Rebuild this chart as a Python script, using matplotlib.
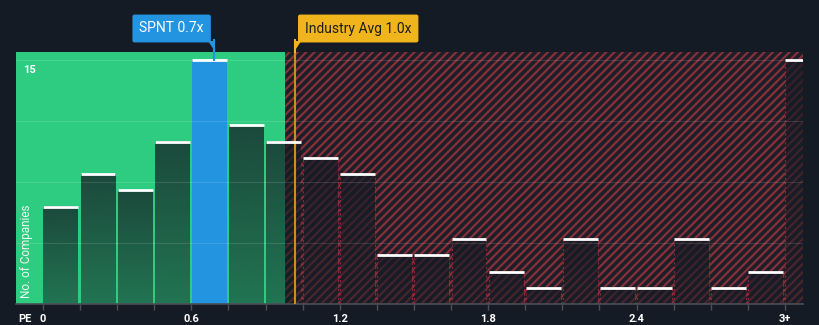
import numpy as np
import matplotlib
matplotlib.use("Agg")
import matplotlib.pyplot as plt
from matplotlib.colors import to_rgb
from matplotlib.patches import Polygon
from matplotlib.transforms import blended_transform_factory

plt.rcParams['font.family'] = ['Roboto', 'DejaVu Sans']
plt.rcParams['hatch.linewidth'] = 1.6

# PE histogram, bins of 0.15 from 0 to 3, plus the 3+ bucket
bin_edges = np.round(np.arange(0, 3.0001, 0.15), 2)
counts = [6, 8, 7, 10, 15, 11, 10, 9, 8, 3, 3, 4, 2, 1, 4, 1, 1, 4, 1, 2]
over_3 = 15
tick_vals = [0, 0.6, 1.2, 1.8, 2.4, 3.0]
tick_labels = ['0', '0.6', '1.2', '1.8', '2.4', '3+']
spnt_pe = 0.69
industry_pe = 1.02
green_limit = 0.98
ylabel_ticks = [15]

bg = '#151b24'
green = '#2ecc80'
blue = '#2394e0'
gold = '#f0b51c'
hatch_red = '#86303a'

W, H = 820, 325
fig = plt.figure(figsize=(W / 100, H / 100), dpi=100, facecolor=bg)
ax = fig.add_axes([16 / W, 21 / H, 787 / W, 252 / H])
ax.set_facecolor(bg)
xmin, xmax = -0.109, 3.073
ymax = 15.52
bw = 0.15

ax.axvspan(xmin, green_limit, color=green, lw=0, zorder=0)
ax.axvspan(green_limit, xmax, facecolor='#1d1e28', edgecolor=hatch_red,
           hatch='////', lw=0, zorder=0)

# dark vertical gradient laid over each bar
grad = np.zeros((64, 1, 4))
grad[..., :3] = to_rgb(bg)
grad[:, 0, 3] = np.linspace(0.5, 0.74, 64)


def draw_bar(left, h, highlight=False):
    x0, x1 = left + 0.002, left + bw - 0.007
    if highlight:
        ax.bar(left + 0.002, h, width=bw - 0.009, align='edge', color=blue, lw=0, zorder=2)
    else:
        ax.imshow(grad, extent=(x0, x1, 0, h), origin='lower', aspect='auto',
                  interpolation='bilinear', zorder=2)
        if left >= green_limit:
            ax.vlines([x0, x1], 0, h, color='#8a2a35', lw=0.8, linestyles=(0, (2, 2)), zorder=2.5)
    ax.hlines(h, x0, x1, color='white', lw=2, zorder=4)


for left, c in zip(bin_edges[:-1], counts):
    draw_bar(left, c, highlight=(left <= spnt_pe < left + bw))
draw_bar(3.0, over_3)

ax.hlines([3.75, 7.5, 11.25, 15], xmin, xmax, color='white', alpha=0.12, lw=0.8, zorder=3)

ax.set_xlim(xmin, xmax)
ax.set_ylim(0, ymax)
for s in ['top', 'left', 'right']:
    ax.spines[s].set_visible(False)
ax.spines['bottom'].set_color('#4a4f57')
ax.spines['bottom'].set_linewidth(1.2)
ax.set_yticks([])
ax.set_xticks(bin_edges)
ax.set_xticklabels([tick_labels[tick_vals.index(v)] if v in tick_vals else '' for v in bin_edges])
ax.tick_params(axis='x', colors='#4a4f57', length=4, width=1, pad=3.5, labelcolor='white',
               labelsize=8)
for lab in ax.get_xticklabels():
    lab.set_fontweight('bold')

yt = blended_transform_factory(ax.transAxes, ax.transData)
for v in ylabel_ticks:
    ax.text(7 / 787, v - 0.25, str(v), transform=yt,
            color='white', fontsize=8, fontweight='bold', ha='left', va='top', zorder=5)
ax.text(11 / 787, 0.21, 'No. of Companies', transform=ax.transAxes, rotation=90,
        color='white', alpha=0.9, fontsize=8.5, ha='center', va='center', zorder=5)
fig.text(18 / W, 1 - 319 / H, 'PE', color='white', fontsize=8, fontweight='bold',
         ha='left', va='center')

# callouts above the plot
bt = blended_transform_factory(ax.transData, fig.transFigure)
px = blended_transform_factory(fig.dpi_scale_trans, fig.transFigure)


def fy(py):
    return 1 - py / H


ax.annotate(f'SPNT {spnt_pe:.1f}x', xy=(spnt_pe, fy(28.5)), xycoords=bt,
            xytext=(-7, 0), textcoords='offset points', ha='right', va='center',
            color='white', fontsize=10,
            bbox=dict(boxstyle='round,pad=0.5,rounding_size=0.15', fc=blue, ec='none'))
ax.plot([spnt_pe, spnt_pe], [fy(40), fy(60)], transform=bt, color=blue, lw=1.5,
        clip_on=False, zorder=6)

ax.annotate(f'Industry Avg {industry_pe:.1f}x', xy=(industry_pe, fy(28.5)), xycoords=bt,
            xytext=(7, 0), textcoords='offset points', ha='left', va='center',
            color='#1d1d1d', fontsize=10,
            bbox=dict(boxstyle='round,pad=0.5,rounding_size=0.15', fc=gold, ec='none'))
ax.plot([industry_pe, industry_pe], [fy(40), fy(52)], transform=bt, color=gold, lw=1.5,
        clip_on=False, zorder=6)
ax.axvline(industry_pe, color='#c98f1a', lw=1.5, zorder=3.5)

# little pointer tails under the callout boxes
sx = ax.transData.transform((spnt_pe, 0))[0]
ix = ax.transData.transform((industry_pe, 0))[0]
for pts, col in [([(sx - 6, 41), (sx, 41), (sx, 50)], blue),
                 ([(ix, 41), (ix + 6, 41), (ix, 50)], gold)]:
    fig.add_artist(Polygon([(x / W, fy(y)) for x, y in pts], closed=True,
                           transform=fig.transFigure, fc=col, ec='none'))

fig.savefig('out.png', dpi=100, facecolor=bg)
